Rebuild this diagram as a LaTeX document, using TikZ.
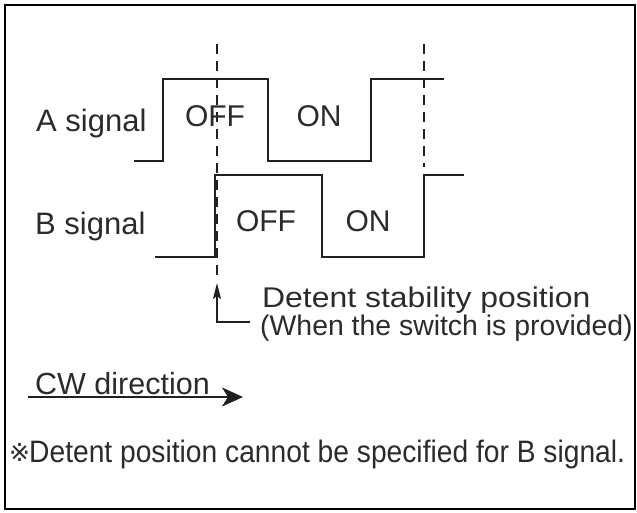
\documentclass[tikz,border=0pt]{standalone}
\usepackage{fontspec}
\setmainfont{Liberation Sans}
\newfontfamily\widefont[FakeStretch=1.12]{Liberation Sans}
\newfontfamily\condfont[FakeStretch=0.91]{Liberation Sans}
\newfontfamily\symfont{DejaVu Sans}
\usetikzlibrary{arrows.meta}
\definecolor{ink}{HTML}{231F20}
\definecolor{txt}{HTML}{2B2B2B}
\begin{document}
\begin{tikzpicture}[x=1pt,y=-1pt,
  sig/.style={draw=ink, line width=1.8pt, line join=miter},
  guide/.style={draw=ink, line width=1.6pt, dash pattern=on 10pt off 7pt},
  lbl/.style={text=txt, inner sep=0pt, anchor=base, font=\fontsize{30}{36}\selectfont},
  side/.style={text=txt, inner sep=0pt, anchor=base west, font=\fontsize{31}{36}\selectfont},
  note/.style={text=txt, inner sep=0pt, anchor=base west}]
\useasboundingbox (0,0) rectangle (637,513);
\draw[line width=2.2pt, black] (5,5) rectangle (635,509);
% guide lines
\coordinate (g1t) at (217,44);
\coordinate (g1b) at (217,281);
\coordinate (g2t) at (424,44);
\coordinate (g2b) at (424,167);
\draw[guide] (g1t) -- (g1b);
\draw[guide] (g2t) -- (g2b);
% A signal
\draw[sig] (134,161) -- (163,161) -- (163,79) -- (268,79) -- (268,161) -- (371,161) -- (371,79) -- (444,79);
% B signal
\draw[sig] (155,257) -- (215,257) -- (215,175) -- (322,175) -- (322,257) -- (424,257) -- (424,175) -- (464,175);
% labels
\node[side] (la) at (36,132) {A signal};
\node[side] (lb) at (35,234) {B signal};
\node[lbl] (aoff) at (215,127) {OFF};
\node[lbl] (aon) at (319,127) {ON};
\node[lbl] (boff) at (266,232) {OFF};
\node[lbl] (bon) at (368,232) {ON};
% detent annotation
\node[note, font=\widefont\fontsize{28.5}{34}\selectfont] (d1) at (262,307) {Detent stability position};
\node[note, font=\fontsize{28.4}{34}\selectfont] (d2) at (260,335) {(When the switch is provided)};
\coordinate (corner) at (217,322);
\coordinate (tip) at (217,283);
\coordinate (hend) at (250,322);
\draw[sig, -{Stealth[length=16pt,width=8pt,inset=3pt]}] (hend) -- (corner) -- (tip);
% CW direction
\node[note, font=\fontsize{30.5}{36}\selectfont] (cw) at (35,394) {CW direction};
\coordinate (cws) at (28,397);
\coordinate (cwe) at (243,397);
\draw[line width=2.2pt, ink, -{Stealth[length=21pt,width=19pt,inset=6pt]}] (cws) -- (cwe);
% footnote
\node[note, font=\symfont\fontsize{25}{26}\selectfont] (mark) at (9,461) {※};
\node[note, font=\condfont\fontsize{31}{36}\selectfont] (fn) at (29,462) {Detent position cannot be specified for B signal.};
\end{tikzpicture}
\end{document}
